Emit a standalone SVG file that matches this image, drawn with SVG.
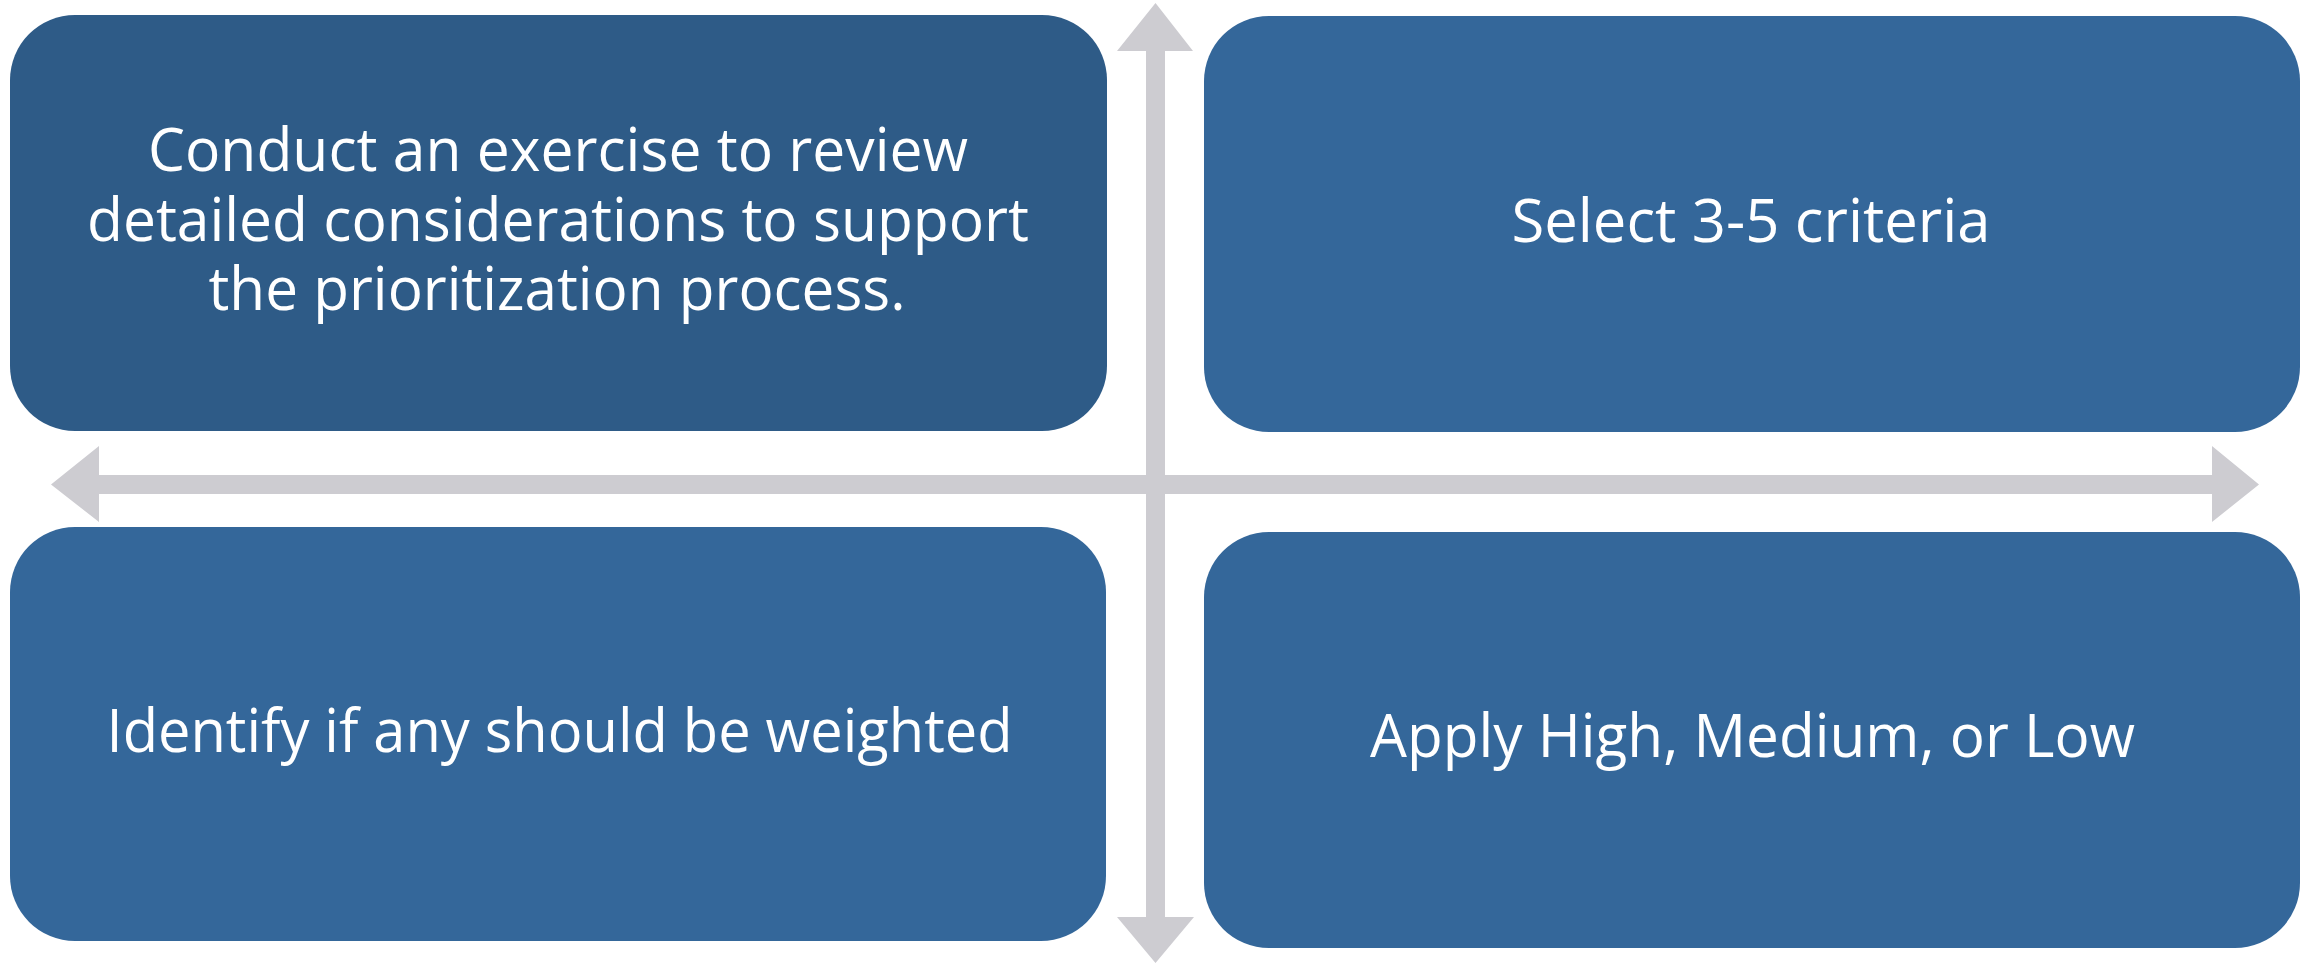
<svg xmlns="http://www.w3.org/2000/svg" width="2313" height="963" viewBox="0 0 2313 963">
<style>
.box{fill:#34679A}
.dark{fill:#2E5B87}
.arrow{fill:#CDCCD1}
.t{font-family:"Open Sans","Noto Sans","Liberation Sans",sans-serif;font-size:61px;fill:#FFFFFF;text-anchor:middle}
</style>
<rect width="2313" height="963" fill="#FFFFFF"/>
<g id="connectors">
<polygon class="arrow" points="51,484.5 99,446 99,475 2212,475 2212,446 2259,484.5 2212,522 2212,494 99,494 99,522"/>
<polygon class="arrow" points="1155.5,3 1193,51 1165,51 1165,917 1194,917 1155.5,963 1117,917 1146,917 1146,51 1117,51"/>
</g>
<g id="node-tl">
<rect class="dark" x="10" y="15" width="1097" height="416" rx="65" ry="65"/>
<text class="t" x="558" y="171" textLength="820" lengthAdjust="spacingAndGlyphs">Conduct an exercise to review</text>
<text class="t" x="558" y="241" textLength="942" lengthAdjust="spacingAndGlyphs">detailed considerations to support</text>
<text class="t" x="557" y="310" textLength="697" lengthAdjust="spacingAndGlyphs">the prioritization process.</text>
</g>
<g id="node-tr">
<rect class="box" x="1204" y="16" width="1096" height="416" rx="65" ry="65"/>
<text class="t" x="1751" y="242" textLength="479" lengthAdjust="spacingAndGlyphs">Select 3-5 criteria</text>
</g>
<g id="node-bl">
<rect class="box" x="10" y="527" width="1096" height="414" rx="65" ry="65"/>
<text class="t" x="559.5" y="752" textLength="906" lengthAdjust="spacingAndGlyphs">Identify if any should be weighted</text>
</g>
<g id="node-br">
<rect class="box" x="1204" y="532" width="1096" height="416" rx="65" ry="65"/>
<text class="t" x="1752.5" y="757" textLength="765" lengthAdjust="spacingAndGlyphs">Apply High, Medium, or Low</text>
</g>
</svg>
